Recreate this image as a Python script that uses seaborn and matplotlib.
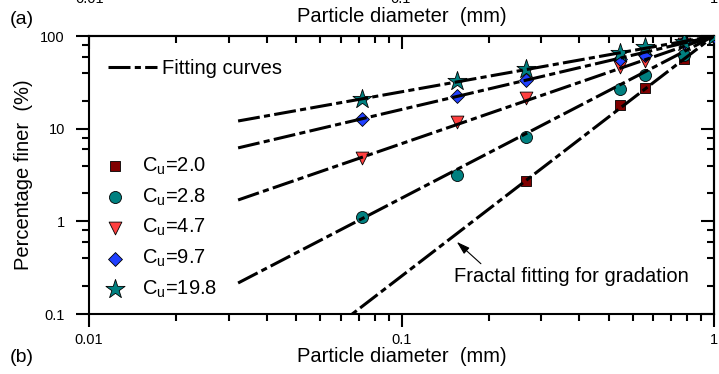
import numpy as np
import pandas as pd
import matplotlib
matplotlib.use("Agg")
import matplotlib.pyplot as plt
import matplotlib.ticker as mticker
import seaborn as sns

# ---------------- data ----------------
sieve_x = [0.075, 0.15, 0.25, 0.5, 0.6, 0.8, 1.0]
cu_labels = ["2.0", "2.8", "4.7", "9.7", "19.8"]

x_cu20 = [0.25, 0.5, 0.6, 0.8, 1.0]
y_cu20 = [2.7, 18.0, 27.5, 57.0, 100.0]
x_cu28 = sieve_x
y_cu28 = [1.1, 3.2, 8.1, 26.6, 38.0, 63.0, 100.0]
x_cu47 = sieve_x
y_cu47 = [4.8, 11.9, 21.3, 46.0, 54.0, 82.0, 100.0]
x_cu97 = sieve_x
y_cu97 = [12.7, 22.7, 33.5, 56.0, 62.0, 86.0, 100.0]
x_cu198 = sieve_x
y_cu198 = [21.0, 33.0, 43.7, 65.0, 76.0, 87.0, 100.0]

# fitted power-law curve end points (x from 0.03 to 1 mm)
fit_x = [0.03, 1.0]
fit_cu20 = [0.0113, 100.0]
fit_cu28 = [0.216, 100.0]
fit_cu47 = [1.7, 100.0]
fit_cu97 = [6.2, 100.0]
fit_cu198 = [12.1, 100.0]

x_major = [0.01, 0.1, 1.0]
y_major = [0.1, 1, 10, 100]
x_minor = [m * d for d in (0.01, 0.1) for m in (1.9, 2.8, 3.7, 4.6, 5.5, 6.4, 7.3, 8.2, 9.1)]
y_minor = [m * d for d in (0.1, 1, 10) for m in (2, 4, 6, 8)]

# ---------------- style ----------------
sns.set_style("ticks")
plt.rcParams["font.family"] = ["Liberation Sans", "DejaVu Sans"]
plt.rcParams["mathtext.fontset"] = "custom"
plt.rcParams["mathtext.rm"] = "Liberation Sans"
plt.rcParams["mathtext.it"] = "Liberation Sans:italic"
plt.rcParams["axes.linewidth"] = 1.5
for k in ("text.color", "axes.labelcolor", "xtick.color", "ytick.color",
          "axes.edgecolor", "xtick.labelcolor", "ytick.labelcolor"):
    plt.rcParams[k] = "black"

W, H = 719, 374
fig = plt.figure(figsize=(W / 100, H / 100), dpi=100)
L, R, T, B = 89, 714, 36, 314
ax = fig.add_axes([L / W, 1 - B / H, (R - L) / W, (B - T) / H])
ax.set_xscale("log")
ax.set_yscale("log")
ax.set_xlim(0.01, 1.0)
ax.set_ylim(0.1, 100)

series = [
    (x_cu20, y_cu20, "s", "#800000", 55),
    (x_cu28, y_cu28, "o", "#008080", 75),
    (x_cu47, y_cu47, "v", "#ff4040", 85),
    (x_cu97, y_cu97, "D", "#2040ff", 50),
    (x_cu198, y_cu198, "*", "#008080", 210),
]
handles = []
for (xs, ys, mk, col, s), lab in zip(series, cu_labels):
    df = pd.DataFrame({"d": xs, "p": ys})
    sns.scatterplot(data=df, x="d", y="p", marker=mk, color=col, s=s,
                    edgecolor="black", linewidth=0.6, ax=ax, zorder=3,
                    label=r"C$_\mathregular{u}$=" + lab, legend=False)
    handles.append(ax.collections[-1])

fit_lines = []
for fy in (fit_cu20, fit_cu28, fit_cu47, fit_cu97, fit_cu198):
    df = pd.DataFrame({"d": fit_x, "p": fy})
    sns.lineplot(data=df, x="d", y="p", color="black", lw=2.2, ax=ax,
                 zorder=4, legend=False, estimator=None, sort=False)
    ln = ax.lines[-1]
    ln.set_dashes((7.2, 1.4, 2.0, 1.4))
    ln.set_dash_capstyle("butt")
    fit_lines.append(ln)

# ---------------- ticks ----------------
ax.xaxis.set_major_locator(mticker.FixedLocator(x_major))
ax.xaxis.set_minor_locator(mticker.FixedLocator(x_minor))
ax.yaxis.set_major_locator(mticker.FixedLocator(y_major))
ax.yaxis.set_minor_locator(mticker.FixedLocator(y_minor))
fmt = mticker.FuncFormatter(lambda v, p: "%g" % v)
ax.xaxis.set_major_formatter(fmt)
ax.yaxis.set_major_formatter(fmt)
ax.xaxis.set_minor_formatter(mticker.NullFormatter())
ax.yaxis.set_minor_formatter(mticker.NullFormatter())
ax.tick_params(which="major", length=9.4, width=1.5, labelsize=10.5, color="black")
ax.tick_params(which="minor", length=5, width=1.5, color="black")
ax.tick_params(axis="both", which="both", direction="out", top=False, right=False)
ax.tick_params(axis="x", which="major", pad=4)
ax.tick_params(axis="y", which="major", pad=8)
# mirrored inward ticks on top/right
sec_x = ax.secondary_xaxis("top")
sec_x.set_xscale("log")
sec_x.xaxis.set_major_locator(mticker.FixedLocator(x_major))
sec_x.xaxis.set_minor_locator(mticker.FixedLocator(x_minor))
sec_x.tick_params(which="both", direction="in", labeltop=False, width=1.5, color="black")
sec_x.tick_params(which="major", length=9.4)
sec_x.tick_params(which="minor", length=5)
sec_x.spines["top"].set_linewidth(1.5)
sec_y = ax.secondary_yaxis("right")
sec_y.set_yscale("log")
sec_y.yaxis.set_major_locator(mticker.FixedLocator(y_major))
sec_y.yaxis.set_minor_locator(mticker.FixedLocator(y_minor))
sec_y.tick_params(which="both", direction="in", labelright=False, width=1.5, color="black")
sec_y.tick_params(which="major", length=9.4)
sec_y.tick_params(which="minor", length=5)
sec_y.spines["right"].set_linewidth(1.5)
for sp in ax.spines.values():
    sp.set_visible(True)
    sp.set_linewidth(1.5)
    sp.set_color("black")

FS = 14.5
ax.set_xlabel("Particle diameter  (mm)", fontsize=FS)
ax.xaxis.set_label_coords(0.5, (B - 346.5) / (B - T))
ax.set_ylabel("Percentage finer  (%)", fontsize=FS)
ax.yaxis.set_label_coords((33 - L) / (R - L), 0.5)

# ---------------- legends ----------------
leg1 = ax.legend([fit_lines[-1]], ["Fitting curves"], loc="upper left",
                 bbox_to_anchor=(108 / W, 1 - 59.5 / H), bbox_transform=fig.transFigure,
                 frameon=False, fontsize=FS, handlelength=2.44, handletextpad=0.25,
                 borderpad=0, borderaxespad=0)
ax.add_artist(leg1)
leg2 = ax.legend(handles, [r"C$_\mathregular{u}$=" + c for c in cu_labels], loc="upper left",
                 bbox_to_anchor=(105 / W, 1 - 155.5 / H), bbox_transform=fig.transFigure,
                 frameon=False, fontsize=FS, handlelength=1.0, handletextpad=0.85,
                 labelspacing=0.47, borderpad=0, borderaxespad=0, scatterpoints=1)

# ---------------- annotation ----------------
ax.annotate("Fractal fitting for gradation", xy=(0.1503, 0.6), xycoords="data",
            xytext=(454, H - 282), textcoords="figure pixels",
            ha="left", va="baseline", fontsize=FS,
            arrowprops=dict(arrowstyle="-|>,head_length=0.55,head_width=0.17",
                            color="black", lw=0.8, shrinkA=0, shrinkB=0,
                            relpos=(0.13, 1.0)))

# ---------------- cropped neighbouring panel texts ----------------
fig.text(10 / W, 1 - 24 / H, "(a)", fontsize=14, ha="left", va="baseline")
fig.text(401.5 / W, 1 - 22 / H, "Particle diameter  (mm)", fontsize=FS, ha="center", va="baseline")
for xv, tx in ((90, "0.01"), (401, "0.1"), (714, "1")):
    fig.text(xv / W, 1 - 3 / H, tx, fontsize=10.5, ha="center", va="baseline")
fig.text(10 / W, 1 - 362 / H, "(b)", fontsize=14, ha="left", va="baseline")

fig.savefig("out.png", dpi=100)
